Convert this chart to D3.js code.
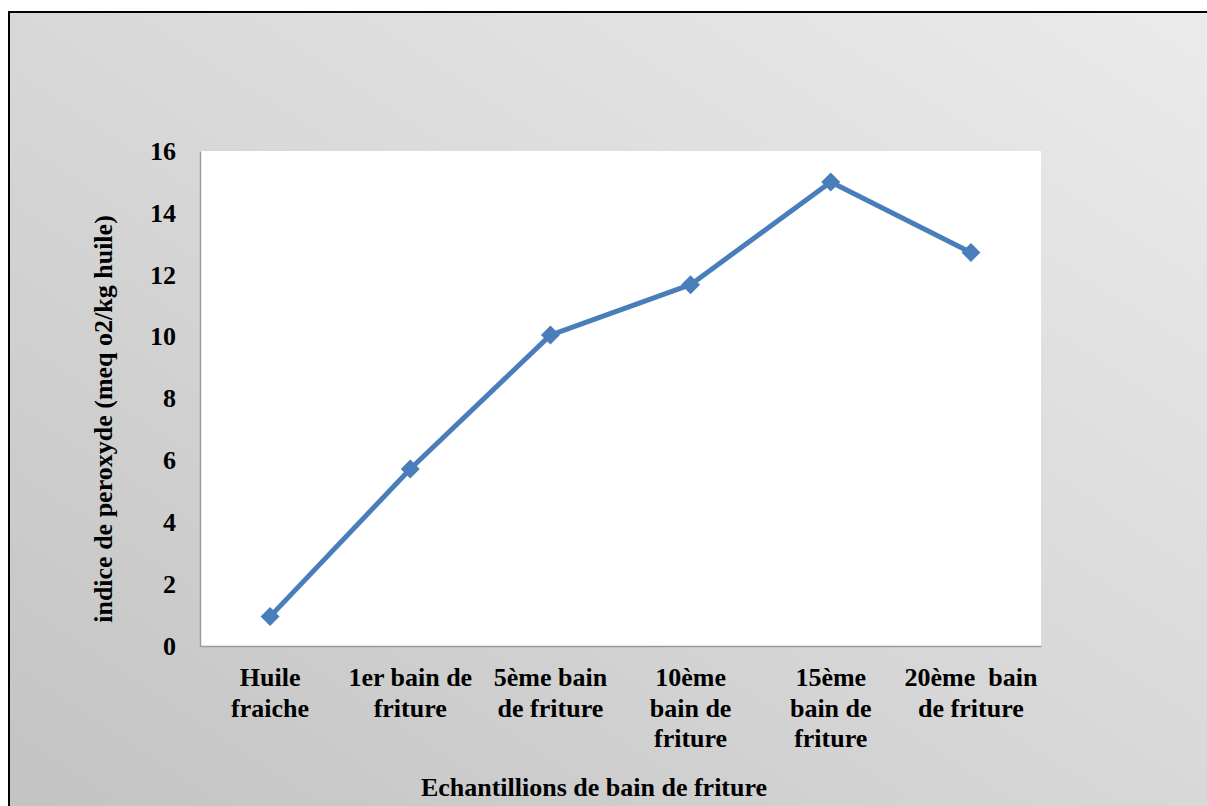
<!DOCTYPE html>
<html>
<head>
<meta charset="utf-8">
<script src="https://cdn.jsdelivr.net/npm/d3@7"></script>
<style>
  html, body { margin: 0; padding: 0; background: #ffffff; }
  svg text { font-family: "Liberation Serif", "Times New Roman", "DejaVu Serif", serif !important; font-weight: bold; fill: #000; }
</style>
</head>
<body>
<svg id="chart" width="1207" height="806"></svg>
<script>
// Samples of frying oil and their peroxide value
const categories = [
  ["Huile", "fraiche"],
  ["1er bain de", "friture"],
  ["5ème bain", "de friture"],
  ["10ème", "bain de", "friture"],
  ["15ème", "bain de", "friture"],
  ["20ème  bain", "de friture"]
];
const peroxide = [0.95, 5.72, 10.05, 11.68, 15.0, 12.72];
const yTicks = [0, 2, 4, 6, 8, 10, 12, 14, 16];
const xTitle = "Echantillions de bain de friture";
const yTitle = "indice de peroxyde (meq o2/kg huile)";

const FONT = "'Liberation Serif', 'Times New Roman', 'DejaVu Serif', serif";

const svg = d3.select("#chart");
const W = 1207, H = 806;

// Chart frame with soft diagonal grey gradient
const defs = svg.append("defs");
const grad = defs.append("linearGradient")
  .attr("id", "bg").attr("x1", 0).attr("y1", 1).attr("x2", 1).attr("y2", 0);
grad.append("stop").attr("offset", "0%").attr("stop-color", "#c3c3c3");
grad.append("stop").attr("offset", "50%").attr("stop-color", "#d8d8d8");
grad.append("stop").attr("offset", "100%").attr("stop-color", "#ebebeb");

const fx = 9, fy = 12;
svg.append("rect").attr("x", fx).attr("y", fy).attr("width", W - fx).attr("height", H - fy)
  .attr("fill", "url(#bg)");
svg.append("path")
  .attr("d", `M${fx},${H} L${fx},${fy} L${W},${fy}`)
  .attr("fill", "none").attr("stroke", "#000").attr("stroke-width", 2);

// Plot area
const m = { left: 200, top: 151, right: 1041, bottom: 646 };
svg.append("rect").attr("x", m.left).attr("y", m.top)
  .attr("width", m.right - m.left).attr("height", m.bottom - m.top).attr("fill", "#ffffff");

const x = d3.scaleBand().domain(d3.range(categories.length)).range([m.left, m.right]);
const y = d3.scaleLinear().domain([0, 16]).range([m.bottom, m.top]);

// Y axis
const yAxis = svg.append("g").attr("transform", `translate(${m.left},0)`)
  .call(d3.axisLeft(y).tickValues(yTicks).tickSize(0).tickPadding(24).tickFormat(d3.format("d")))
  .attr("font-family", FONT).attr("font-size", 26).attr("font-weight", "bold");
yAxis.select(".domain").attr("stroke", "#9a9a9a").attr("stroke-width", 1.5);
yAxis.selectAll("text").attr("font-family", FONT).attr("font-size", 26);

// X axis
const xAxis = svg.append("g").attr("transform", `translate(0,${m.bottom})`)
  .call(d3.axisBottom(x).tickSize(0).tickFormat(""))
  .attr("font-family", FONT).attr("font-size", 26).attr("font-weight", "bold");
xAxis.select(".domain").attr("stroke", "#9a9a9a").attr("stroke-width", 1.5);
xAxis.selectAll(".tick").each(function (d) {
  const t = d3.select(this).append("text")
    .attr("font-family", FONT).attr("font-size", 26).attr("text-anchor", "middle")
    .style("white-space", "pre");
  categories[d].forEach((line, i) => {
    t.append("tspan").attr("x", 0).attr("y", 40 + i * 30.5).text(line);
  });
});

// Axis titles
svg.append("text").attr("x", 594).attr("y", 796).attr("text-anchor", "middle")
  .attr("font-family", FONT).attr("font-size", 26).text(xTitle);
svg.append("text")
  .attr("transform", `translate(112,${(203 + 635) / 2}) rotate(-90)`)
  .attr("font-family", FONT).attr("text-anchor", "middle").attr("font-size", 26).text(yTitle);

// Series line and diamond markers
const color = "#4a7ebb";
const cx = i => x(i) + x.bandwidth() / 2;
svg.append("path")
  .datum(peroxide)
  .attr("d", d3.line().x((d, i) => cx(i)).y(d => y(d)))
  .attr("fill", "none").attr("stroke", color).attr("stroke-width", 5)
  .attr("stroke-linejoin", "round");
svg.selectAll(".marker").data(peroxide).join("path")
  .attr("class", "marker")
  .attr("transform", (d, i) => `translate(${cx(i)},${y(d)})`)
  .attr("d", d3.symbol().type(d3.symbolDiamond2).size(230))
  .attr("fill", color);
</script>
</body>
</html>
